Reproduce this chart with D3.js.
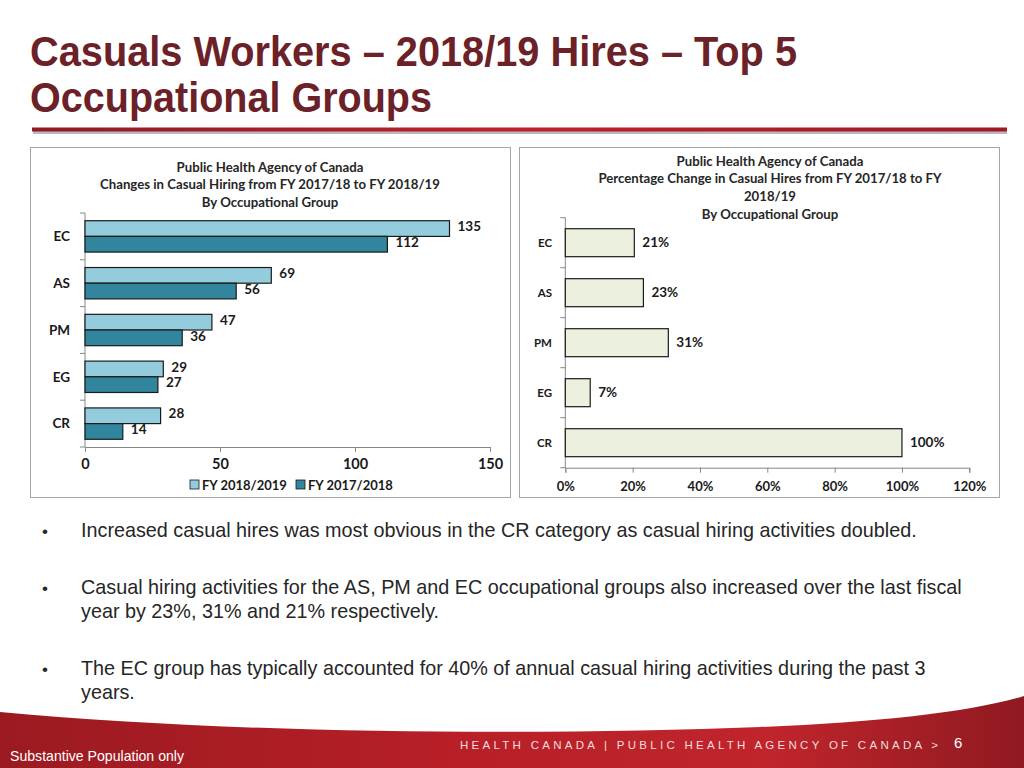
<!DOCTYPE html>
<html><head><meta charset="utf-8">
<script src="https://cdn.jsdelivr.net/npm/d3@7/dist/d3.min.js"></script>
<style>
html,body{margin:0;padding:0;background:#fff;}
svg{display:block;}
</style></head>
<body>
<svg id="slide" width="1024" height="768"></svg>
<script>
// ---------- DATA ----------
const categories = ["EC", "AS", "PM", "EG", "CR"];
const hires2018_19 = [135, 69, 47, 29, 28];
const hires2017_18 = [112, 56, 36, 27, 14];
const pctChange = [20.5, 23.2, 30.6, 7.4, 100];
const countTicks = [0, 50, 100, 150];
const pctTicks = [0, 20, 40, 60, 80, 100, 120];
const seriesNames = ["FY 2018/2019", "FY 2017/2018"];
const leftTitle = ["Public Health Agency of Canada", "Changes in Casual Hiring from FY 2017/18 to FY 2018/19", "By Occupational Group"];
const rightTitle = ["Public Health Agency of Canada", "Percentage Change in Casual Hires from FY 2017/18 to FY", "2018/19", "By Occupational Group"];
const bullets = [
  ["Increased casual hires was most obvious in the CR category as casual hiring activities doubled."],
  ["Casual hiring activities for the AS, PM and EC occupational groups also increased over the last fiscal", "year by 23%, 31% and 21% respectively."],
  ["The EC group has typically accounted for 40% of annual casual hiring activities during the past 3", "years."]
];

const svg = d3.select("#slide");
const chartFont = "Lato, 'Open Sans', sans-serif";
const defs = svg.append("defs");

// ---------- SLIDE TITLE ----------
const titleG = svg.append("g").attr("font-family", "'Liberation Sans Narrow','Liberation Sans',Arial,sans-serif")
  .attr("font-weight", "bold").attr("font-size", 43).attr("fill", "#6b2127");
titleG.append("text").attr("x", 30).attr("y", 66).attr("textLength", 767).attr("lengthAdjust", "spacingAndGlyphs")
  .text("Casuals Workers \u2013 2018/19 Hires \u2013 Top 5");
titleG.append("text").attr("x", 30).attr("y", 112).attr("textLength", 402).attr("lengthAdjust", "spacingAndGlyphs")
  .text("Occupational Groups");

// red rule
const rg = defs.append("linearGradient").attr("id", "rule").attr("x1", 0).attr("x2", 1);
rg.append("stop").attr("offset", 0).attr("stop-color", "#8e1b22");
rg.append("stop").attr("offset", 0.5).attr("stop-color", "#c0202a");
rg.append("stop").attr("offset", 1).attr("stop-color", "#9e1a22");
svg.append("rect").attr("x", 33).attr("y", 131).attr("width", 974).attr("height", 3).attr("fill", "#9a9aa8").attr("opacity", 0.7);
svg.append("rect").attr("x", 32).attr("y", 127.5).attr("width", 975).attr("height", 4).attr("fill", "url(#rule)");

// ---------- LEFT CHART ----------
svg.append("rect").attr("x", 30.5).attr("y", 147.5).attr("width", 480).attr("height", 350)
  .attr("fill", "#fff").attr("stroke", "#a6a6a6");
const L = {x0: 85, x1: 490, y0: 213, y1: 447};
const xL = d3.scaleLinear().domain([0, 150]).range([L.x0, L.x1]);
const yL = d3.scaleBand().domain(categories).range([L.y0, L.y1]).paddingInner(0.33).paddingOuter(0.165);
const ySub = d3.scaleBand().domain(seriesNames).range([0, yL.bandwidth()]);
const colors = ["#93cddd", "#31859c"];

const lt = svg.append("g").attr("font-family", chartFont).attr("font-weight", "bold").attr("font-size", 13.2).attr("fill", "#262626").attr("text-anchor", "middle");
leftTitle.forEach((t, i) => lt.append("text").attr("x", 270).attr("y", 171.5 + i * 17.5).text(t));

// axes
const xAxisL = d3.axisBottom(xL).tickValues(countTicks).tickSize(5).tickPadding(7);
const gxL = svg.append("g").attr("transform", `translate(0,${L.y1})`).call(xAxisL);
gxL.select(".domain").attr("stroke", "#868686");
gxL.selectAll(".tick line").attr("stroke", "#868686");
gxL.selectAll(".tick text").attr("font-family", chartFont).attr("font-weight", "bold").attr("font-size", 14.5).attr("fill", "#1a1a1a");

const bandEdgesL = d3.range(categories.length + 1).map(i => L.y0 + i * (L.y1 - L.y0) / categories.length);
const gyL = svg.append("g");
gyL.append("line").attr("x1", L.x0).attr("x2", L.x0).attr("y1", L.y0).attr("y2", L.y1).attr("stroke", "#868686");
gyL.selectAll("line.t").data(bandEdgesL).join("line").attr("class", "t")
  .attr("x1", L.x0 - 5).attr("x2", L.x0).attr("y1", d => d).attr("y2", d => d).attr("stroke", "#868686");
gyL.selectAll("text").data(categories).join("text")
  .attr("x", 70).attr("y", d => yL(d) + yL.bandwidth() / 2).attr("dy", "0.35em").attr("text-anchor", "end")
  .attr("font-family", chartFont).attr("font-weight", "bold").attr("font-size", 13.5).attr("fill", "#1a1a1a").text(d => d);

// bars
const seriesData = [hires2018_19, hires2017_18];
seriesData.forEach((vals, si) => {
  const g = svg.append("g");
  g.selectAll("rect").data(vals).join("rect")
    .attr("x", xL(0)).attr("y", (d, i) => yL(categories[i]) + ySub(seriesNames[si]))
    .attr("width", d => xL(d) - xL(0)).attr("height", ySub.bandwidth())
    .attr("fill", colors[si]).attr("stroke", "#1a1a1a").attr("stroke-width", 1.2);
  g.selectAll("text").data(vals).join("text")
    .attr("x", d => xL(d) + 8).attr("y", (d, i) => yL(categories[i]) + ySub(seriesNames[si]) + ySub.bandwidth() / 2)
    .attr("dy", "0.2em").attr("font-family", chartFont).attr("font-weight", "bold").attr("font-size", 13.5).attr("fill", "#1a1a1a")
    .text(d => d);
});

// legend
const legX = [190, 296];
seriesNames.forEach((n, i) => {
  svg.append("rect").attr("x", legX[i]).attr("y", 480).attr("width", 9).attr("height", 9)
    .attr("fill", colors[i]).attr("stroke", "#1a1a1a").attr("stroke-width", 0.8);
  svg.append("text").attr("x", legX[i] + 12).attr("y", 489.5).attr("font-family", chartFont).attr("font-weight", "bold")
    .attr("font-size", 13).attr("fill", "#1a1a1a").text(n);
});

// ---------- RIGHT CHART ----------
svg.append("rect").attr("x", 519.5).attr("y", 147.5).attr("width", 480).attr("height", 350)
  .attr("fill", "#fff").attr("stroke", "#a6a6a6");
const R = {x0: 565.3, x1: 969.3, y0: 217.7, y1: 467.7};
const xR = d3.scaleLinear().domain([0, 120]).range([R.x0, R.x1]);
const yR = d3.scaleBand().domain(categories).range([R.y0, R.y1]).paddingInner(0.44).paddingOuter(0.22);

const rt = svg.append("g").attr("font-family", chartFont).attr("font-weight", "bold").attr("font-size", 13.2).attr("fill", "#262626").attr("text-anchor", "middle");
rightTitle.forEach((t, i) => rt.append("text").attr("x", 770).attr("y", 165.5 + i * 17.7).text(t));

const xAxisR = d3.axisBottom(xR).tickValues(pctTicks).tickSize(5).tickPadding(9).tickFormat(d => d + "%");
const gxR = svg.append("g").attr("transform", `translate(0,${R.y1})`).call(xAxisR);
gxR.select(".domain").attr("stroke", "#868686");
gxR.selectAll(".tick line").attr("stroke", "#868686");
gxR.selectAll(".tick text").attr("font-family", chartFont).attr("font-weight", "bold").attr("font-size", 13).attr("fill", "#1a1a1a");

const bandEdgesR = d3.range(categories.length + 1).map(i => R.y0 + i * (R.y1 - R.y0) / categories.length);
const gyR = svg.append("g");
gyR.append("line").attr("x1", R.x0).attr("x2", R.x0).attr("y1", R.y0).attr("y2", R.y1).attr("stroke", "#868686");
gyR.selectAll("line.t").data(bandEdgesR).join("line").attr("class", "t")
  .attr("x1", R.x0 - 5).attr("x2", R.x0).attr("y1", d => d).attr("y2", d => d).attr("stroke", "#868686");
gyR.selectAll("text").data(categories).join("text")
  .attr("x", 552).attr("y", d => yR(d) + yR.bandwidth() / 2).attr("dy", "0.35em").attr("text-anchor", "end")
  .attr("font-family", chartFont).attr("font-weight", "bold").attr("font-size", 11.5).attr("fill", "#1a1a1a").text(d => d);

const gbR = svg.append("g");
gbR.selectAll("rect").data(pctChange).join("rect")
  .attr("x", xR(0)).attr("y", (d, i) => yR(categories[i])).attr("width", d => xR(d) - xR(0)).attr("height", yR.bandwidth())
  .attr("fill", "#ebf1de").attr("stroke", "#1a1a1a").attr("stroke-width", 1.2);
gbR.selectAll("text").data(pctChange).join("text")
  .attr("x", d => xR(d) + 8).attr("y", (d, i) => yR(categories[i]) + yR.bandwidth() / 2).attr("dy", "0.35em")
  .attr("font-family", chartFont).attr("font-weight", "bold").attr("font-size", 13.5).attr("fill", "#1a1a1a")
  .text(d => Math.round(d) + "%");

// ---------- BULLETS ----------
const bg = svg.append("g").attr("font-family", "'Liberation Sans',Arial,sans-serif").attr("font-size", 19.8).attr("fill", "#262626");
const bulletY = [537, 594, 675];
bullets.forEach((lines, i) => {
  bg.append("text").attr("x", 42).attr("y", bulletY[i]).attr("font-size", 17).text("\u2022");
  lines.forEach((ln, j) => bg.append("text").attr("x", 81).attr("y", bulletY[i] + j * 24).text(ln));
});

// ---------- FOOTER ----------
const fg = defs.append("linearGradient").attr("id", "foot").attr("x1", 0).attr("x2", 1).attr("y1", 0).attr("y2", 0);
fg.append("stop").attr("offset", 0).attr("stop-color", "#9b1a21");
fg.append("stop").attr("offset", 0.45).attr("stop-color", "#b81f27");
fg.append("stop").attr("offset", 0.75).attr("stop-color", "#c0252c");
fg.append("stop").attr("offset", 1).attr("stop-color", "#8f1a20");
svg.append("path").attr("d", "M0,712 C250,735 550,735 760,727 C880,722 970,712 1024,696 L1024,768 L0,768 Z").attr("fill", "url(#foot)");
svg.append("text").attr("x", 10).attr("y", 761).attr("font-family", "'Liberation Sans Narrow','Liberation Sans',Arial,sans-serif")
  .attr("font-size", 14.5).attr("fill", "#fff").attr("textLength", 174).attr("lengthAdjust", "spacingAndGlyphs").text("Substantive Population only");
svg.append("text").attr("x", 460).attr("y", 749).attr("font-family", "'Liberation Sans',Arial,sans-serif")
  .attr("font-size", 11.5).attr("fill", "#f3dcdc").attr("textLength", 478).attr("lengthAdjust", "spacing")
  .text("HEALTH CANADA | PUBLIC HEALTH AGENCY OF CANADA >");
svg.append("text").attr("x", 954).attr("y", 748).attr("font-family", "'Liberation Sans',Arial,sans-serif")
  .attr("font-size", 15).attr("fill", "#fff").text("6");
</script>
</body></html>
